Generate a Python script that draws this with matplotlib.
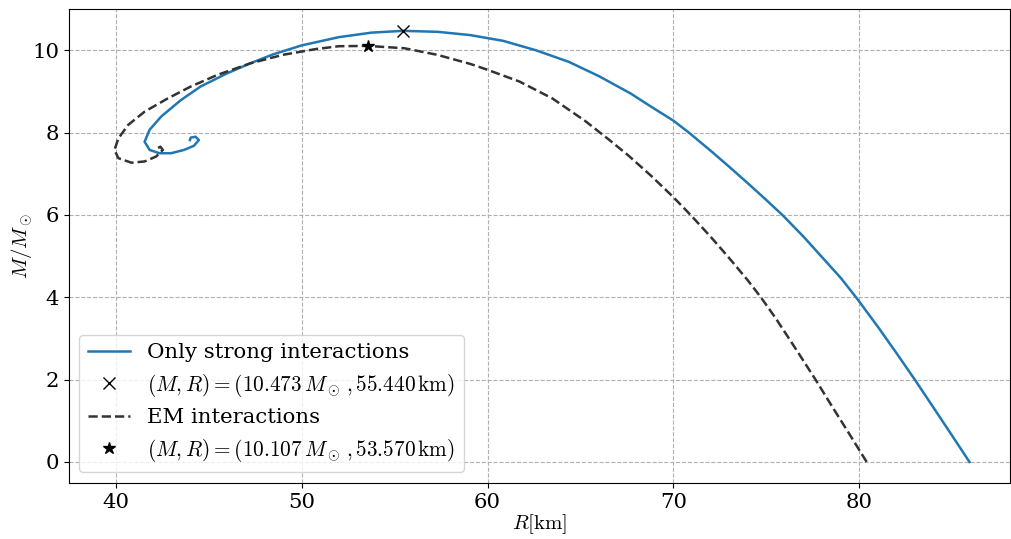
import matplotlib
matplotlib.use("Agg")
import matplotlib.pyplot as plt

plt.rcParams['font.family'] = 'serif'
plt.rcParams['font.serif'] = ['DejaVu Serif']
plt.rcParams['mathtext.fontset'] = 'cm'

# Only strong interactions (from M=0 at large R towards the spiral end)
R_strong = [85.92, 85.0, 84.0, 82.98, 82.0, 81.0, 79.87, 79.0, 78.0, 77.0,
            75.88, 75.0, 74.0, 73.0, 72.0, 70.83, 70.0, 68.8, 67.7, 66.0,
            64.37, 62.61, 60.84, 59.07, 57.3, 55.44, 53.76, 52.0, 50.0, 48.45,
            47.21, 45.98, 44.56, 43.5, 42.44, 41.82, 41.55, 41.82, 42.35, 42.97,
            43.67, 44.2, 44.47, 44.29, 44.03, 43.99]
M_strong = [0.0, 0.63, 1.31, 2.0, 2.64, 3.28, 3.97, 4.47, 4.97, 5.47,
            5.99, 6.36, 6.77, 7.17, 7.56, 8.0, 8.29, 8.63, 8.95, 9.37,
            9.72, 10.0, 10.23, 10.37, 10.45, 10.473, 10.43, 10.32, 10.12, 9.9,
            9.68, 9.44, 9.12, 8.79, 8.39, 8.07, 7.78, 7.58, 7.5, 7.5,
            7.58, 7.68, 7.82, 7.9, 7.88, 7.82]

# EM interactions
R_em = [80.39, 79.5, 78.5, 77.64, 76.5, 75.5, 74.7, 74.0, 73.0, 72.0,
        70.92, 70.0, 68.8, 67.56, 66.5, 65.26, 63.49, 61.72, 60.04, 59.07,
        57.3, 55.53, 53.57, 52.0, 50.75, 48.98, 47.21, 45.45, 44.03, 42.79,
        41.55, 40.67, 40.14, 39.93, 40.14, 40.84, 41.55, 42.17, 42.53, 42.4,
        42.17]
M_em = [0.0, 0.65, 1.37, 2.0, 2.8, 3.49, 4.0, 4.41, 4.95, 5.47,
        6.0, 6.43, 6.95, 7.45, 7.84, 8.28, 8.83, 9.24, 9.52, 9.67,
        9.89, 10.05, 10.107, 10.1, 10.03, 9.89, 9.68, 9.4, 9.12, 8.83,
        8.51, 8.19, 7.86, 7.58, 7.38, 7.27, 7.3, 7.42, 7.58, 7.66,
        7.6]

max_strong = (55.440, 10.473)
max_em = (53.570, 10.107)

FS = 15.3

fig = plt.figure(figsize=(10.11, 5.39), dpi=100)
ax = fig.add_axes([0.068, 0.104, 0.931, 0.879])

ax.plot(R_strong, M_strong, color='#1f77b4', lw=1.8, label='Only strong interactions')
ax.plot(max_strong[0], max_strong[1], 'x', color='black', ms=9, mew=1.0, ls='none',
        label=r'$(M,R) = (10.473\,M_\odot\,, 55.440\,\mathrm{km})$')
ax.plot(R_em, M_em, ls='--', color='#333333', lw=1.8, label='EM interactions')
ax.plot(max_em[0], max_em[1], '*', color='black', ms=9, ls='none',
        label=r'$(M,R) = (10.107\,M_\odot\,, 53.570\,\mathrm{km})$')

ax.set_xlim(37.47, 88.1)
ax.set_ylim(-0.51, 11.0)
ax.set_xticks([40, 50, 60, 70, 80])
ax.set_yticks([0, 2, 4, 6, 8, 10])
ax.tick_params(labelsize=FS)
ax.grid(True, ls='--', color='#b0b0b0', lw=0.8)
ax.set_xlabel(r'$R[\mathrm{km}]$', fontsize=15)
ax.set_ylabel(r'$M/M_\odot$', fontsize=15)
ax.xaxis.set_label_coords(0.5, -0.062)
ax.yaxis.set_label_coords(-0.036, 0.5)
ax.legend(loc='lower left', fontsize=FS, handlelength=2.0, borderpad=0.4,
          labelspacing=0.45)

fig.savefig('out.png', dpi=100)
